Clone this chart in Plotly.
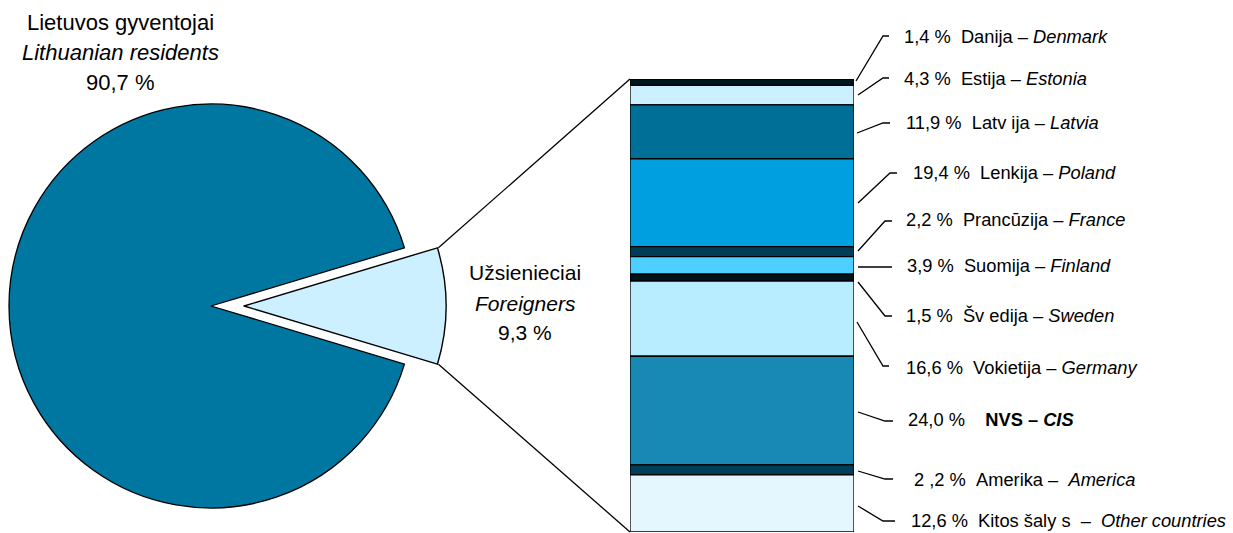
import math
import plotly.graph_objects as go

W, H = 1233, 533

# ---------------- data ----------------
pie_labels = ["Užsienieciai – Foreigners", "Lietuvos gyventojai – Lithuanian residents"]
pie_values = [9.3, 90.7]
pie_colors = ["#CCF0FF", "#0077A1"]

countries = ["Danija", "Estija", "Latvija", "Lenkija", "Prancūzija", "Suomija",
             "Švedija", "Vokietija", "NVS", "Amerika", "Kitos šalys"]
shares = [1.4, 4.3, 11.9, 19.4, 2.2, 3.9, 1.5, 16.6, 24.0, 2.2, 12.6]
bar_colors = ["#00161F", "#CCF0FF", "#006F98", "#00A0E0", "#003C56", "#4DD0FF",
              "#00121A", "#B8ECFF", "#1888B5", "#003F5A", "#E4F7FF"]
NB = "\u00a0"
label_texts = [
    f"1,4 %{NB}{NB}Danija – <i>Denmark</i>",
    f"4,3 %{NB}{NB}Estija – <i>Estonia</i>",
    f"11,9 %{NB}{NB}Latv{NB}ija – <i>Latvia</i>",
    f"19,4 %{NB}{NB}Lenkija – <i>Poland</i>",
    f"2,2 %{NB}{NB}Prancūzija – <i>France</i>",
    f"3,9 %{NB}{NB}Suomija – <i>Finland</i>",
    f"1,5 %{NB}{NB}Šv{NB}edija – <i>Sweden</i>",
    f"16,6 %{NB}{NB}Vokietija – <i>Germany</i>",
    f"24,0 %{NB}{NB}{NB}{NB}<b>NVS – <i>CIS</i></b>",
    f"2{NB},2 %{NB}{NB}Amerika –{NB}{NB}<i>America</i>",
    f"12,6 %{NB}{NB}Kitos šaly{NB}s{NB}{NB}–{NB}{NB}<i>Other countries</i>",
]

# ---------------- layout helpers (pixel -> paper) ----------------
def px(x):
    return x / W

def py(y):
    return 1 - y / H

FONT = "Arial, Liberation Sans, sans-serif"

# pie geometry
R = 202
CX, CY = 211, 306
PULL_PX = 33
slice_angle = pie_values[0] / sum(pie_values) * 360
rotation = 90 - slice_angle / 2

def pie_domain(cx):
    return dict(x=[px(cx - R), px(cx + R)], y=[py(CY + R), py(CY - R)])

fig = go.Figure()

# main slice (Lithuanian residents)
fig.add_trace(go.Pie(
    labels=pie_labels, values=pie_values, sort=False, direction="clockwise",
    rotation=rotation, textinfo="none", hoverinfo="label+percent",
    marker=dict(colors=["rgba(0,0,0,0)", pie_colors[1]],
                line=dict(color="black", width=[0, 1.3])),
    domain=pie_domain(CX), showlegend=False,
))
# exploded slice (Foreigners)
fig.add_trace(go.Pie(
    labels=pie_labels, values=pie_values, sort=False, direction="clockwise",
    rotation=rotation, textinfo="none", hoverinfo="label+percent",
    marker=dict(colors=[pie_colors[0], "rgba(0,0,0,0)"],
                line=dict(color="black", width=[1.4, 0])),
    domain=pie_domain(CX + PULL_PX), showlegend=False,
))

# stacked bar of foreigners
bases = []
acc = 0
for v in shares:
    bases.append(acc)
    acc += v

BAR_L, BAR_R, BAR_T, BAR_B = 630, 854, 79, 532
fig.add_trace(go.Bar(
    x=[0] * len(shares), y=shares, base=bases, width=1,
    marker=dict(color=bar_colors, line=dict(color="black", width=1.3)),
    hovertext=countries, hoverinfo="text+y", cliponaxis=False, showlegend=False,
))

fig.update_layout(
    width=W, height=H, margin=dict(l=0, r=0, t=0, b=0),
    paper_bgcolor="white", plot_bgcolor="rgba(0,0,0,0)",
    barmode="overlay", showlegend=False,
    xaxis=dict(domain=[px(BAR_L), px(BAR_R)], range=[-0.5, 0.5], visible=False, fixedrange=True),
    yaxis=dict(domain=[py(BAR_B), py(BAR_T)], range=[100, 0], visible=False, fixedrange=True),
    font=dict(family=FONT, color="black"),
)

shapes = []
# connectors from exploded slice to bar
a = math.radians(slice_angle / 2)
scx = CX + PULL_PX
top_corner = (scx + R * math.cos(a), CY - R * math.sin(a))
bot_corner = (scx + R * math.cos(a), CY + R * math.sin(a))
for (x0, y0), (x1, y1) in [(top_corner, (BAR_L, BAR_T)), (bot_corner, (BAR_L, BAR_B))]:
    shapes.append(dict(type="line", xref="paper", yref="paper",
                       x0=px(x0 + 1), y0=py(y0), x1=px(x1), y1=py(y1),
                       line=dict(color="black", width=1.3)))

# leader lines (start on bar edge, bend, end)
leaders = [
    [(856, 81), (883, 36), (889, 36)],
    [(858, 95), (883, 78), (889, 78)],
    [(857, 133), (883, 123), (890, 123)],
    [(858, 203), (890, 173), (897, 173)],
    [(858, 251), (885, 221), (892, 221)],
    [(858, 267), (875, 267), (892, 267)],
    [(858, 282), (885, 316), (892, 316)],
    [(857, 322), (883, 366), (889, 366)],
    [(858, 412), (885, 421), (893, 421)],
    [(858, 471), (885, 479), (893, 479)],
    [(858, 506), (883, 521), (895, 521)],
]
for pts in leaders:
    path = "M " + " L ".join(f"{px(x):.5f},{py(y):.5f}" for x, y in pts)
    shapes.append(dict(type="path", xref="paper", yref="paper", path=path,
                       line=dict(color="black", width=1.3)))
fig.update_layout(shapes=shapes)

annotations = []
label_x = [903, 903, 905, 912, 905, 906, 905, 905, 907, 913, 910]
label_y = [36, 78, 122, 172, 219, 265, 315, 367, 419, 479, 520]
for t, x, y in zip(label_texts, label_x, label_y):
    annotations.append(dict(text=t, x=px(x), y=py(y), xref="paper", yref="paper",
                            xanchor="left", yanchor="middle", showarrow=False,
                            font=dict(size=18.3, family=FONT, color="black"),
                            borderpad=0))

left_lines = ["Lietuvos gyventojai", "<i>Lithuanian residents</i>", "90,7 %"]
for t, y in zip(left_lines, [22.5, 52.5, 82.5]):
    annotations.append(dict(text=t, x=px(120), y=py(y), xref="paper", yref="paper",
                            xanchor="center", yanchor="middle", showarrow=False,
                            font=dict(size=22, family=FONT, color="black"), borderpad=0))

right_lines = ["Užsienieciai", "<i>Foreigners</i>", "9,3 %"]
for t, y in zip(right_lines, [272, 303, 332]):
    annotations.append(dict(text=t, x=px(525), y=py(y), xref="paper", yref="paper",
                            xanchor="center", yanchor="middle", showarrow=False,
                            font=dict(size=21, family=FONT, color="black"), borderpad=0))

fig.update_layout(annotations=annotations)

fig.write_html("out.html", config={"displayModeBar": False},
               post_script="document.body.style.margin='0px';document.body.style.overflow='hidden';")
